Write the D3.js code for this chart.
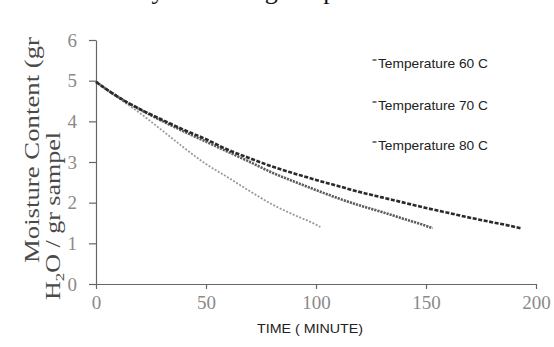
<!DOCTYPE html>
<html>
<head>
<meta charset="utf-8">
<script src="https://cdn.jsdelivr.net/npm/d3@7"></script>
<style>
  html, body { margin: 0; padding: 0; background: #fff; }
  svg { display: block; }
</style>
</head>
<body>
<svg id="chart" width="554" height="347"></svg>
<script>
// ---- data ----
const seriesNames = ["Temperature 60 C", "Temperature 70 C", "Temperature 80 C"];
const time60 = [0, 10, 20, 30, 40, 50, 60, 70, 80, 90, 100, 110, 120, 130, 140, 150, 160, 170, 180, 190, 193];
const moist60 = [4.97, 4.60, 4.30, 4.04, 3.79, 3.56, 3.30, 3.09, 2.89, 2.72, 2.56, 2.41, 2.26, 2.13, 2.00, 1.87, 1.75, 1.63, 1.52, 1.41, 1.37];
const time70 = [0, 10, 20, 30, 40, 50, 60, 70, 80, 90, 100, 110, 120, 130, 140, 150, 153];
const moist70 = [4.97, 4.60, 4.29, 4.01, 3.75, 3.50, 3.25, 3.00, 2.74, 2.52, 2.31, 2.11, 1.93, 1.77, 1.60, 1.43, 1.37];
const time80 = [0, 10, 20, 30, 40, 50, 60, 70, 80, 90, 100, 102];
const moist80 = [4.97, 4.58, 4.20, 3.78, 3.35, 2.95, 2.62, 2.28, 1.96, 1.70, 1.46, 1.40];
const xTicks = [0, 50, 100, 150, 200];
const yTicks = [0, 1, 2, 3, 4, 5, 6];
const xTitle = "TIME ( MINUTE)";
const yTitle1 = "Moisture Content (gr";
const yTitle2a = "H";
const yTitle2b = "2";
const yTitle2c = "O / gr sampel";
const topText = "the moisture ratio caused by increasing temperature.";

const svg = d3.select("#chart");
const x = d3.scaleLinear().domain([0, 200]).range([96, 536]);
const y = d3.scaleLinear().domain([0, 6]).range([284, 40]);

// top cropped document text (only the lower part of the glyphs shows, as in the reference)
svg.append("text")
  .attr("x", 415).attr("y", -1)
  .attr("text-anchor", "end")
  .attr("font-family", "Liberation Serif, Times New Roman, serif")
  .attr("font-size", 26)
  .attr("fill", "#111")
  .text(topText);

// axes
const axisColor = "#666";
const gx = svg.append("g").attr("transform", "translate(0,284)")
  .call(d3.axisBottom(x).tickValues(xTicks).tickSize(5).tickSizeOuter(0).tickPadding(7).tickFormat(d3.format("d")));
const gy = svg.append("g").attr("transform", "translate(96,0)")
  .call(d3.axisLeft(y).tickValues(yTicks).tickSize(7).tickSizeOuter(0).tickPadding(12).tickFormat(d3.format("d")));
[gx, gy].forEach(g => {
  g.select(".domain").attr("stroke", axisColor).attr("stroke-width", 1.2);
  g.selectAll(".tick line").attr("stroke", axisColor).attr("stroke-width", 1.2);
  g.selectAll(".tick text")
    .attr("font-family", "Liberation Serif, Times New Roman, serif")
    .attr("font-size", 19)
    .attr("fill", "#8a8a8a");
});
gx.select(".domain").attr("d", `M93,0.5H${x(200)}`);

// lines
const series = [
  { name: seriesNames[0], t: time60, m: moist60, color: "#2a2a2a", width: 2.6, dash: "4,1.6" },
  { name: seriesNames[1], t: time70, m: moist70, color: "#5e5e5e", width: 2.6, dash: "2.2,1" },
  { name: seriesNames[2], t: time80, m: moist80, color: "#9a9a9a", width: 1.8, dash: "2,1.6" }
];
const line = d3.line().x(d => x(d[0])).y(d => y(d[1])).curve(d3.curveMonotoneX);
series.slice().reverse().forEach(s => {
  svg.append("path")
    .datum(d3.zip(s.t, s.m))
    .attr("d", line)
    .attr("fill", "none")
    .attr("stroke", s.color)
    .attr("stroke-width", s.width)
    .attr("stroke-dasharray", s.dash);
});

// legend
const legendY = [68, 110, 150];
series.forEach((s, i) => {
  svg.append("line")
    .attr("x1", 372.5).attr("x2", 376.5)
    .attr("y1", legendY[i] - 8).attr("y2", legendY[i] - 8)
    .attr("stroke", "#333").attr("stroke-width", 1.3);
  svg.append("text")
    .attr("x", 378).attr("y", legendY[i])
    .attr("font-family", "Liberation Sans, Arial, sans-serif")
    .attr("font-size", 13)
    .attr("textLength", 110).attr("lengthAdjust", "spacingAndGlyphs")
    .attr("fill", "#222")
    .text(s.name);
});

// axis titles
svg.append("text")
  .attr("x", 310).attr("y", 333)
  .attr("text-anchor", "middle")
  .attr("font-family", "Liberation Sans, Arial, sans-serif")
  .attr("font-size", 13)
  .attr("textLength", 106).attr("lengthAdjust", "spacingAndGlyphs")
  .attr("fill", "#222")
  .text(xTitle);

svg.append("text")
  .attr("transform", "translate(39,263) rotate(-90) scale(1,0.78)")
  .attr("font-family", "Liberation Serif, Times New Roman, serif")
  .attr("font-size", 26)
  .attr("textLength", 226).attr("lengthAdjust", "spacingAndGlyphs")
  .attr("fill", "#4a4a4a")
  .text(yTitle1);

const t2 = svg.append("text")
  .attr("transform", "translate(60,300) rotate(-90) scale(1,0.78)")
  .attr("font-family", "Liberation Serif, Times New Roman, serif")
  .attr("font-size", 26)
  .attr("fill", "#4a4a4a");
t2.append("tspan").text(yTitle2a);
t2.append("tspan").attr("font-size", 17).attr("dy", 5).text(yTitle2b);
t2.append("tspan").attr("dy", -5).text(yTitle2c);
</script>
</body>
</html>
